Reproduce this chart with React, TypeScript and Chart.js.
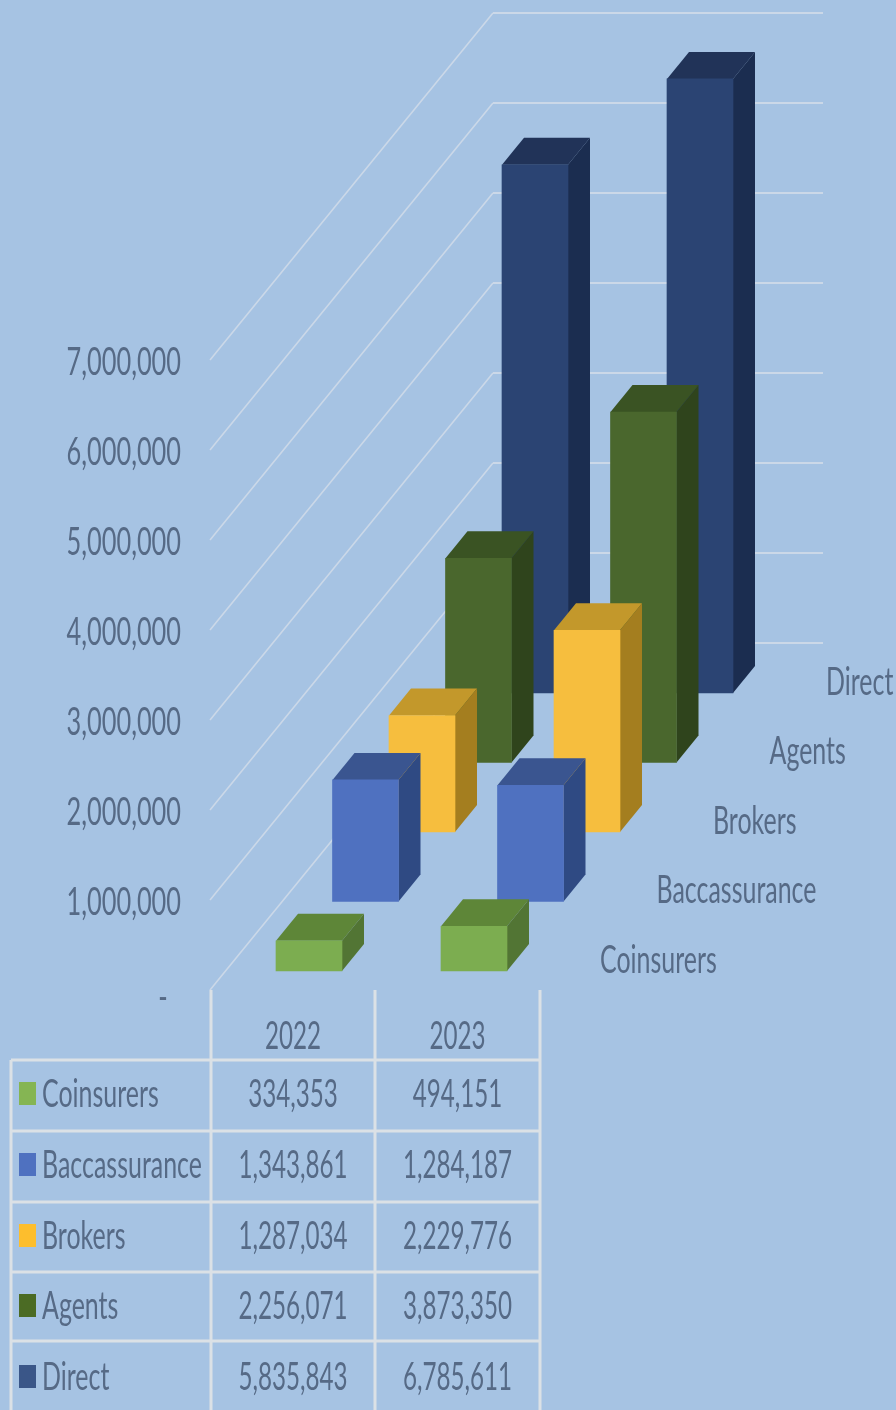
import React, { useEffect, useRef } from "react";
import { Chart, registerables } from "chart.js";

Chart.register(...registerables);

// Values per distribution channel, front row first.
const years = [2022, 2023];
const seriesNames = ["Coinsurers", "Baccassurance", "Brokers", "Agents", "Direct"];
const coinsurers = [334353, 494151];
const baccassurance = [1343861, 1284187];
const brokers = [1287034, 2229776];
const agents = [2256071, 3873350];
const direct = [5835843, 6785611];
const seriesValues = [coinsurers, baccassurance, brokers, agents, direct];

const frontColors = ["#7CAD50", "#4F71C0", "#F6BE3E", "#4A672D", "#2B4473"];
const sideColors = ["#527534", "#2F4A83", "#A47E1F", "#2F441C", "#1B2D50"];
const topColors = ["#5E8638", "#3A5590", "#C3982B", "#3A5323", "#213358"];
const keyColors = ["#85B553", "#4F71C0", "#FDBE2D", "#4B6B24", "#3A5688"];

const BACKGROUND = "#A6C3E3";
const TEXT = "#566A86";
const GRID = "#CBD8E8";
const TABLE_LINE = "#DBE1E6";

// Oblique projection used to fake the 3D depth axis.
const AREA = { left: 210, right: 539, top: 360, bottom: 990 };
const ROW_DX = 56.5;
const ROW_DY = 69.5;
const FRONT_LIFT = 19;
const FRONT_CENTER = 99;
const BAND = 165;
const BAR_WIDTH = 66;
const FACE_DX = 22;
const FACE_DY = 27;
const PX_PER_UNIT = 90.5 / 1e6;
const WALL_DX = 283;
const WALL_DY = 347;
const WALL_RIGHT = 823;

// Data table geometry.
const rowLines = [1060, 1131, 1202, 1272, 1341];
const rowCenters = [1094, 1165, 1236, 1306, 1377];
const columnLines = [211, 375, 540];

const FONT = "39px Lato, 'Liberation Sans', sans-serif";
const SQUEEZE_AXIS = 0.65;
const SQUEEZE_NAME = 0.64;
const SQUEEZE_CELL = 0.62;

const fmt = (v: number) => v.toLocaleString("en-US");

function squeezedText(
  ctx: CanvasRenderingContext2D,
  text: string,
  x: number,
  y: number,
  align: CanvasTextAlign,
  squeeze: number,
) {
  ctx.save();
  ctx.translate(x, y);
  ctx.scale(squeeze, 1);
  ctx.font = FONT;
  ctx.fillStyle = TEXT;
  ctx.textAlign = align;
  ctx.textBaseline = "middle";
  ctx.fillText(text, 0, 0);
  ctx.restore();
}

function polygon(ctx: CanvasRenderingContext2D, pts: number[][], color: string) {
  ctx.beginPath();
  pts.forEach(([x, y], i) => (i ? ctx.lineTo(x, y) : ctx.moveTo(x, y)));
  ctx.closePath();
  ctx.fillStyle = color;
  ctx.fill();
}

const box3d = {
  id: "box3d",
  // Receding gridlines and wall lines sit behind every bar.
  beforeDatasetsDraw(chart: any) {
    const { ctx } = chart;
    const y = chart.scales.y;
    ctx.save();
    ctx.strokeStyle = GRID;
    y.ticks.forEach((t: any) => {
      const py = y.getPixelForValue(t.value);
      ctx.lineWidth = 1.6;
      ctx.beginPath();
      ctx.moveTo(AREA.left, py);
      ctx.lineTo(AREA.left + WALL_DX, py - WALL_DY);
      ctx.stroke();
      ctx.lineWidth = 2.2;
      ctx.beginPath();
      ctx.moveTo(AREA.left + WALL_DX, py - WALL_DY);
      ctx.lineTo(WALL_RIGHT, py - WALL_DY);
      ctx.stroke();
    });
    ctx.restore();
  },
  // Top and side faces go down first; the library paints the front face over them.
  beforeDatasetDraw(chart: any, args: any) {
    const { ctx } = chart;
    const i = args.index;
    chart.getDatasetMeta(i).data.forEach((bar: any) => {
      const { x, y, base, width } = bar.getProps(["x", "y", "base", "width"], true);
      const l = x - width / 2;
      const r = x + width / 2;
      polygon(ctx, [[l, y], [l + FACE_DX, y - FACE_DY], [r + FACE_DX, y - FACE_DY], [r, y]], topColors[i]);
      polygon(ctx, [[r, y], [r + FACE_DX, y - FACE_DY], [r + FACE_DX, base - FACE_DY], [r, base]], sideColors[i]);
    });
  },
  afterDraw(chart: any) {
    const { ctx } = chart;
    const y = chart.scales.y;

    // Value axis labels.
    y.ticks.forEach((t: any) => {
      const py = y.getPixelForValue(t.value);
      if (t.value === 0) squeezedText(ctx, t.label, 163, py + 7, "center", SQUEEZE_AXIS);
      else squeezedText(ctx, t.label, 181, py + 2, "right", SQUEEZE_AXIS);
    });

    // Depth axis labels, one per row, following the projection.
    seriesNames.forEach((name, i) => {
      const px = chart.scales[`x${i}`].getPixelForValue(years[1]) + 126;
      const py = chart.scales[`y${i}`].getPixelForValue(0) - 11;
      squeezedText(ctx, name, px, py, "left", SQUEEZE_NAME);
    });

    // Data table under the plot.
    ctx.save();
    ctx.strokeStyle = TABLE_LINE;
    ctx.lineWidth = 3;
    const h = chart.height;
    columnLines.forEach((cx) => {
      ctx.beginPath();
      ctx.moveTo(cx, AREA.bottom);
      ctx.lineTo(cx, h);
      ctx.stroke();
    });
    ctx.beginPath();
    ctx.moveTo(11, rowLines[0]);
    ctx.lineTo(11, h);
    ctx.stroke();
    rowLines.forEach((ry) => {
      ctx.beginPath();
      ctx.moveTo(11, ry);
      ctx.lineTo(columnLines[2], ry);
      ctx.stroke();
    });
    ctx.restore();

    const c0 = (columnLines[0] + columnLines[1]) / 2;
    const c1 = (columnLines[1] + columnLines[2]) / 2;
    squeezedText(ctx, String(years[0]), c0, 1036, "center", SQUEEZE_CELL);
    squeezedText(ctx, String(years[1]), c1, 1036, "center", SQUEEZE_CELL);
    seriesNames.forEach((name, i) => {
      const cy = rowCenters[i];
      ctx.fillStyle = keyColors[i];
      ctx.fillRect(19, cy - 12, 17, 23);
      squeezedText(ctx, name, 42, cy, "left", SQUEEZE_NAME);
      squeezedText(ctx, fmt(seriesValues[i][0]), c0, cy, "center", SQUEEZE_CELL);
      squeezedText(ctx, fmt(seriesValues[i][1]), c1, cy, "center", SQUEEZE_CELL);
    });
  },
};

export default function App() {
  const ref = useRef<HTMLCanvasElement>(null);

  useEffect(() => {
    const spanPx = AREA.bottom - AREA.top;
    const scales: any = {
      y: {
        display: false,
        min: 0,
        max: 7000000,
        ticks: { stepSize: 1000000, callback: (v: any) => (v === 0 ? "-" : fmt(Number(v))) },
      },
    };
    // Each row has its own hidden axes, shifted along the projection.
    seriesNames.forEach((_, i) => {
      const lift = FRONT_LIFT + ROW_DY * i;
      const minV = -lift / PX_PER_UNIT;
      scales[`y${i}`] = { display: false, min: minV, max: minV + spanPx / PX_PER_UNIT };
      const minX = years[0] - (FRONT_CENTER + ROW_DX * i) / BAND;
      scales[`x${i}`] = {
        type: "linear",
        display: false,
        offset: false,
        min: minX,
        max: minX + (AREA.right - AREA.left) / BAND,
      };
    });

    const chart = new Chart(ref.current as HTMLCanvasElement, {
      type: "bar",
      data: {
        labels: years,
        datasets: seriesNames.map((name, i) => ({
          label: name,
          data: seriesValues[i],
          backgroundColor: frontColors[i],
          borderWidth: 0,
          barThickness: BAR_WIDTH,
          grouped: false,
          xAxisID: `x${i}`,
          yAxisID: `y${i}`,
          clip: false,
        })),
      },
      options: {
        animation: false,
        responsive: false,
        layout: {
          padding: {
            left: AREA.left,
            right: 896 - AREA.right,
            top: AREA.top,
            bottom: 1410 - AREA.bottom,
          },
        },
        plugins: { legend: { display: false }, tooltip: { enabled: false } },
        scales,
      } as any,
      plugins: [box3d],
    } as any);
    return () => chart.destroy();
  }, []);

  return (
    <div style={{ position: "absolute", left: 0, top: 0, width: 896, height: 1410, background: BACKGROUND }}>
      <canvas ref={ref} width={896} height={1410} style={{ display: "block" }} />
    </div>
  );
}
